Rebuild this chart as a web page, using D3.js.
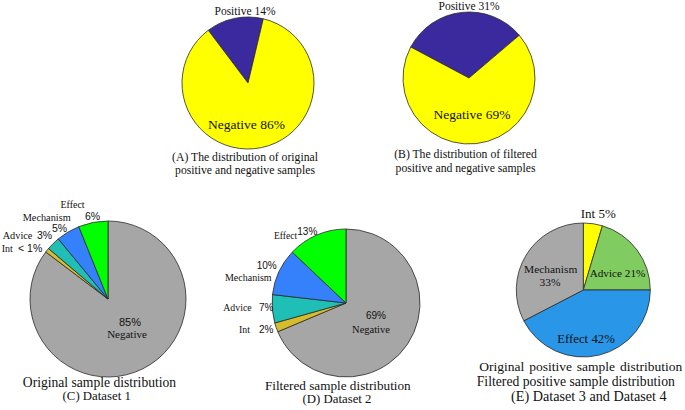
<!DOCTYPE html>
<html><head><meta charset="utf-8">
<script src="https://cdn.jsdelivr.net/npm/d3@7"></script>
<style>
body{margin:0;background:#fff;}
text{fill:#111;}
.serif{font-family:"Liberation Serif","Times New Roman",serif;}
.sans{font-family:"Liberation Sans",Arial,sans-serif;}
</style></head>
<body>
<svg id="c" width="685" height="410"></svg>
<script>
// ---- data ----
const catsA = ["Positive", "Negative"];
const valsA = [14, 86];
const catsB = ["Positive", "Negative"];
const valsB = [31, 69];
const catsC = ["Negative", "Int", "Advice", "Mechanism", "Effect"];
const valsC = [85.3, 0.9, 2.8, 4.9, 6.1];
const catsD = ["Negative", "Int", "Advice", "Mechanism", "Effect"];
const valsD = [69, 2, 6.2, 10.3, 13];
const catsE = ["Int", "Advice", "Effect", "Mechanism"];
const valsE = [4.6, 20.4, 42.4, 32.6];
const pctLabelsC = ["85%", "< 1%", "3%", "5%", "6%"];
const pctLabelsD = ["69%", "2%", "7%", "10%", "13%"];
const pctLabelsE = ["5%", "21%", "42%", "33%"];

const svg = d3.select("#c");
const deg = Math.PI / 180;

function drawPie(cats, vals, colorMap, cx, cy, r, start) {
  const pie = d3.pie().sort(null).value(d => d)
    .startAngle(start * deg).endAngle(start * deg + 2 * Math.PI);
  const arc = d3.arc().innerRadius(0).outerRadius(r);
  const g = svg.append("g").attr("transform", `translate(${cx},${cy})`);
  g.selectAll("path").data(pie(vals)).join("path")
    .attr("d", arc)
    .attr("fill", (d, i) => colorMap[cats[i]])
    .attr("stroke", "#2a2a2a").attr("stroke-width", 0.8);
  return g;
}
function txt(x, y, s, cls, size, anchor) {
  return svg.append("text").attr("x", x).attr("y", y).attr("class", cls)
    .attr("font-size", size).attr("text-anchor", anchor || "start").text(s);
}

// (A)
drawPie(catsA, valsA, {Positive: "#3a2a9e", Negative: "#ffff00"}, 248, 83, 66, -37);
txt(245, 14.5, `${catsA[0]} ${valsA[0]}%`, "serif", 11.5, "middle");
txt(246.5, 129, `${catsA[1]} ${valsA[1]}%`, "serif", 13.5, "middle");
txt(245, 161, "(A) The distribution of original", "serif", 11.7, "middle");
txt(245, 173.5, "positive and negative samples", "serif", 11.7, "middle");

// (B)
drawPie(catsB, valsB, {Positive: "#3a2a9e", Negative: "#ffff00"}, 469, 78, 66, -62);
txt(469, 9.5, `${catsB[0]} ${valsB[0]}%`, "serif", 11.5, "middle");
txt(472, 119, `${catsB[1]} ${valsB[1]}%`, "serif", 13.5, "middle");
txt(465.5, 158.3, "(B) The distribution of filtered", "serif", 11.7, "middle");
txt(465.5, 171.7, "positive and negative samples", "serif", 11.7, "middle");

// (C)
const colC = {Negative: "#a6a6a6", Int: "#d4bc2c", Advice: "#1fbfb5", Mechanism: "#3580fb", Effect: "#00ff00"};
drawPie(catsC, valsC, colC, 108, 299, 78, 0);
txt(72.5, 208, catsC[4], "serif", 10, "middle");
txt(85, 220, pctLabelsC[4], "sans", 10.5);
txt(46.7, 220.5, catsC[3], "serif", 10.3, "middle");
txt(52, 232, pctLabelsC[3], "sans", 10.5);
txt(2.7, 238.5, catsC[2], "serif", 10.3);
txt(37, 239, pctLabelsC[2], "sans", 10.5);
txt(1.7, 252, catsC[1], "serif", 10);
txt(18, 252, pctLabelsC[1], "sans", 10.5);
txt(130, 326, pctLabelsC[0], "sans", 11, "middle");
txt(127, 337.5, catsC[0], "serif", 11, "middle");
txt(99.5, 387, "Original sample distribution", "serif", 13.6, "middle");
txt(96.7, 400, "(C) Dataset 1", "serif", 12.8, "middle");

// (D)
const colD = colC;
drawPie(catsD, valsD, colD, 346, 303, 74, 0);
txt(274, 239, catsD[4], "serif", 9.5);
txt(297.3, 234.5, pctLabelsD[4], "sans", 10);
txt(266.7, 269, pctLabelsD[3], "sans", 10, "middle");
txt(248.3, 281, catsD[3], "serif", 10, "middle");
txt(223.3, 311, catsD[2], "serif", 9.8);
txt(259, 311, pctLabelsD[2], "sans", 10);
txt(239, 333, catsD[1], "serif", 9.8);
txt(259, 333, pctLabelsD[1], "sans", 10);
txt(376, 319, pctLabelsD[0], "sans", 10, "middle");
txt(371, 333, catsD[0], "serif", 10.5, "middle");
txt(337.8, 389.5, "Filtered sample distribution", "serif", 13.2, "middle");
txt(337, 402.5, "(D) Dataset 2", "serif", 12.8, "middle");

// (E)
const colE = {Int: "#ffff00", Advice: "#80cc60", Effect: "#2a96e8", Mechanism: "#a8a8a8"};
drawPie(catsE, valsE, colE, 583.3, 290, 67, 0);
txt(598.3, 218, `${catsE[0]} ${pctLabelsE[0]}`, "serif", 13, "middle");
txt(617.5, 276.7, `${catsE[1]} ${pctLabelsE[1]}`, "serif", 11.2, "middle");
txt(586, 343, `${catsE[2]} ${pctLabelsE[2]}`, "serif", 12.8, "middle");
txt(550.7, 273, catsE[3], "serif", 11.4, "middle");
txt(550, 285.5, pctLabelsE[3], "serif", 11.4, "middle");
txt(580.8, 370.6, "Original positive sample distribution", "serif", 13.5, "middle").attr("word-spacing", 1.5);
txt(575.8, 385.7, "Filtered positive sample distribution", "serif", 13.7, "middle");
txt(588.8, 400.7, "(E) Dataset 3 and Dataset 4", "serif", 14.2, "middle");
</script>
</body></html>
